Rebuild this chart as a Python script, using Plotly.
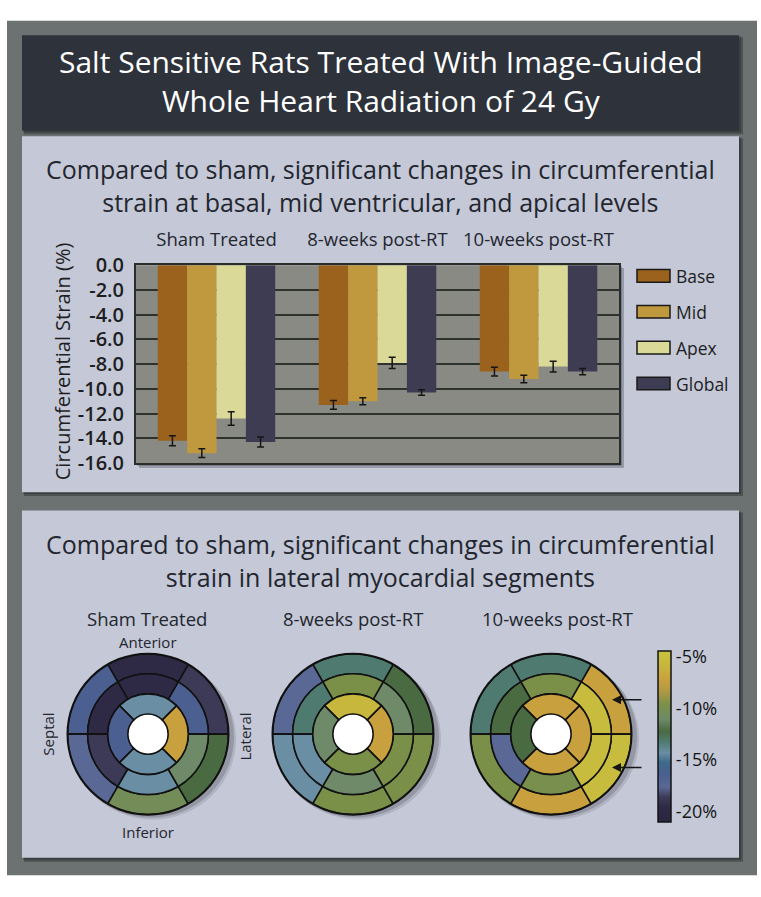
import plotly.graph_objects as go

W, H = 761, 897


def px(x):
    return x / W


def py(y):
    return 1 - y / H


# ---------------- data ----------------
GROUPS = ["Sham Treated", "8-weeks post-RT", "10-weeks post-RT"]
SERIES = ["Base", "Mid", "Apex", "Global"]
BASE = [-14.2, -11.3, -8.6]
BASE_ERR = [0.4, 0.35, 0.35]
MID = [-15.2, -11.0, -9.2]
MID_ERR = [0.35, 0.28, 0.3]
APEX = [-12.4, -7.9, -8.2]
APEX_ERR = [0.55, 0.45, 0.43]
GLOBAL = [-14.3, -10.3, -8.6]
GLOBAL_ERR = [0.4, 0.22, 0.25]
Y_TICKS = [0, -2, -4, -6, -8, -10, -12, -14, -16]
Y_TICK_TEXT = ["0.0", "-2.0", "-4.0", "-6.0", "-8.0", "-10.0", "-12.0", "-14.0", "-16.0"]

BULLSEYE_TITLES = ["Sham Treated", "8-weeks post-RT", "10-weeks post-RT"]
# segment strain (%) ordered by segment angle: basal/mid at 30,90,150,210,270,330 deg; apical at 0,90,180,270 deg
SHAM_BASAL = [-18.6, -19.6, -16.4, -17.6, -10.3, -12.2]
SHAM_MID = [-16.4, -19.6, -19.6, -18.6, -14.3, -11.0]
SHAM_APICAL = [-7.2, -14.3, -16.4, -14.3]
WK8_BASAL = [-12.2, -13.2, -17.6, -14.3, -9.6, -9.6]
WK8_MID = [-11.0, -9.6, -13.2, -14.3, -11.0, -9.6]
WK8_APICAL = [-7.2, -5.6, -11.0, -9.6]
WK10_BASAL = [-7.2, -13.2, -13.2, -9.6, -7.2, -5.2]
WK10_MID = [-5.2, -9.6, -12.2, -17.6, -9.8, -5.2]
WK10_APICAL = [-7.2, -7.2, -12.2, -7.2]
CB_TICKS = [-5, -10, -15, -20]
CB_TICK_TEXT = ["-5%", "-10%", "-15%", "-20%"]

# ---------------- styles / structure ----------------
FONT = "'Open Sans', Lato, sans-serif"
TXT = "#23262e"
SERIES_COLORS = ["#9b621e", "#c0983e", "#dbd998", "#3e3c52"]
CMIN, CMAX = -21.0, -4.4
SCALE_POINTS = [
    (-21.0, "#2a2540"), (-19.6, "#2e2a46"), (-18.6, "#3c3a56"), (-17.6, "#5a6896"),
    (-16.4, "#4b5f90"), (-15.2, "#3e6a8a"), (-14.3, "#6a8ea4"), (-13.2, "#4f7a70"),
    (-12.2, "#4a6a42"), (-11.0, "#6e8a68"), (-9.6, "#7a9048"), (-8.2, "#b39a44"),
    (-7.2, "#c9a03e"), (-6.0, "#c6b43c"), (-4.4, "#c8c43e"),
]
COLORSCALE = [[(v - CMIN) / (CMAX - CMIN), c] for v, c in SCALE_POINTS]

THETA6 = [30, 90, 150, 210, 270, 330]
THETA4 = [0, 90, 180, 270]
CENTERS_X = [148, 353, 551]
CENTER_Y = 742.5
RADIUS = 83

fig = go.Figure()

# ---------------- bar chart ----------------
vals = [BASE, MID, APEX, GLOBAL]
errs = [BASE_ERR, MID_ERR, APEX_ERR, GLOBAL_ERR]
for name, color, v, e in zip(SERIES, SERIES_COLORS, vals, errs):
    fig.add_trace(go.Bar(
        x=GROUPS, y=v, name=name, marker=dict(color=color, line=dict(width=0)),
        error_y=dict(type="data", array=e, visible=True, color="#151515", thickness=1.5, width=3.5),
        showlegend=False, hoverinfo="skip", xaxis="x", yaxis="y",
    ))

# ---------------- bullseyes ----------------
sets = [
    (SHAM_BASAL, SHAM_MID, SHAM_APICAL),
    (WK8_BASAL, WK8_MID, WK8_APICAL),
    (WK10_BASAL, WK10_MID, WK10_APICAL),
]
for i, (basal, mid, apical) in enumerate(sets):
    theta = THETA6 + THETA6 + THETA4
    width = [60] * 6 + [60] * 6 + [90] * 4
    base = [3] * 6 + [2] * 6 + [1] * 4
    colors = basal + mid + apical
    fig.add_trace(go.Barpolar(
        theta=theta, width=width, base=base, r=[1] * 16,
        marker=dict(
            color=colors, colorscale=COLORSCALE, cmin=CMIN, cmax=CMAX,
            line=dict(color="#111111", width=1.6),
            showscale=(i == 2),
            colorbar=dict(
                x=px(658), xanchor="left", xpad=0,
                y=py(744.5), yanchor="middle", ypad=0,
                len=171, lenmode="pixels", thickness=13,
                outlinewidth=1.5, outlinecolor="#151515", borderwidth=0,
                tickvals=CB_TICKS, ticktext=CB_TICK_TEXT, ticks="",
                tickfont=dict(family=FONT, size=18, color="#151515"),
            ),
        ),
        subplot="polar" if i == 0 else f"polar{i + 1}",
        showlegend=False, hoverinfo="skip",
    ))

layout = dict(
    width=W, height=H, margin=dict(l=0, r=0, t=0, b=0),
    paper_bgcolor="white", plot_bgcolor="rgba(0,0,0,0)",
    barmode="group", bargap=0.27, bargroupgap=0,
    font=dict(family=FONT, color=TXT),
    xaxis=dict(
        domain=[px(136), px(619)], anchor="y", side="top",
        showgrid=False, ticks="outside", ticklen=10, tickcolor="rgba(0,0,0,0)",
        tickfont=dict(family=FONT, size=18.5, color=TXT),
        showline=True, mirror=True, linecolor="#2a2d2a", linewidth=2,
    ),
    yaxis=dict(
        domain=[py(463), py(259)], anchor="x", range=[-16, 0],
        tickvals=Y_TICKS, ticktext=Y_TICK_TEXT,
        showgrid=True, gridcolor="#2e322e", gridwidth=2, zeroline=False,
        ticks="outside", ticklen=6, tickcolor="rgba(0,0,0,0)",
        tickfont=dict(family=FONT, size=20, color="#1e1e22", weight=600),
        showline=True, mirror=True, linecolor="#2a2d2a", linewidth=2,
    ),
)

for i, cx in enumerate(CENTERS_X):
    key = "polar" if i == 0 else f"polar{i + 1}"
    layout[key] = dict(
        domain=dict(x=[px(cx - RADIUS), px(cx + RADIUS)], y=[py(CENTER_Y + RADIUS), py(CENTER_Y - RADIUS)]),
        bgcolor="white", bargap=0,
        radialaxis=dict(range=[0, 4], visible=False, showgrid=False),
        angularaxis=dict(rotation=0, direction="counterclockwise", showgrid=False,
                         showticklabels=False, ticks="", showline=True,
                         linecolor="#111111", linewidth=2),
    )

# ---------------- shapes ----------------
shapes = []


def rect(x0, y0, x1, y1, fill, layer="below"):
    shapes.append(dict(type="rect", xref="paper", yref="paper", x0=px(x0), x1=px(x1),
                       y0=py(y1), y1=py(y0), fillcolor=fill, line=dict(width=0), layer=layer))


rect(7, 7, 757, 888, "#6c7171")
for (x0, y0, x1, y1, fill) in [(22, 22, 739, 120, "#2e323b"), (22, 126, 739, 493, "#c4c8d7"),
                              (22, 512, 739, 870, "#c4c8d7")]:
    rect(x0 + 2, y0 + 2, x1 + 4, y1 + 4, "rgba(20,22,22,0.35)")
    rect(x0 + 1, y0 + 1, x1 + 2, y1 + 2, "rgba(20,22,22,0.3)")
    rect(x0, y0, x1, y1, fill)
# plot area shadow + background
rect(139, 262, 624, 468, "rgba(40,40,50,0.28)")
rect(137, 260, 622, 466, "rgba(40,40,50,0.25)")
rect(136, 259, 619, 463, "#8a8a85")
# bullseye shadows
for cx in CENTERS_X:
    for off, a in [(5, 0.12), (3, 0.18)]:
        shapes.append(dict(type="circle", xref="paper", yref="paper",
                           x0=px(cx - RADIUS + off), x1=px(cx + RADIUS + off),
                           y0=py(CENTER_Y + RADIUS + off), y1=py(CENTER_Y - RADIUS + off),
                           fillcolor=f"rgba(30,30,40,{a})", line=dict(width=0), layer="below"))
# legend swatches
legend_y = [270, 307, 344, 381]
for c, yc in zip(SERIES_COLORS, legend_y):
    shapes.append(dict(type="rect", xref="paper", yref="paper", x0=px(637), x1=px(670),
                       y0=py(yc + 6.5), y1=py(yc - 6.5), fillcolor=c,
                       line=dict(color="#1a1a1a", width=1.5), layer="above"))
layout["shapes"] = shapes

# ---------------- annotations ----------------
ann = []


def text(x, y, s, size, color=TXT, angle=0, xanchor="center", weight=None):
    f = dict(family=FONT, size=size, color=color)
    if weight:
        f["weight"] = weight
    ann.append(dict(x=px(x), y=py(y), xref="paper", yref="paper", text=s, showarrow=False,
                    xanchor=xanchor, yanchor="middle", textangle=angle, font=f))


text(380.5, 69, "Salt Sensitive Rats Treated With Image-Guided<br>Whole Heart Radiation of 24 Gy", 30, "white")
text(380.5, 177, "Compared to sham, significant changes in circumferential<br>strain at basal, mid ventricular, and apical levels", 25)
text(380.5, 563, "Compared to sham, significant changes in circumferential<br>strain in lateral myocardial segments", 25)
text(62, 358, "Circumferential Strain (%)", 20, "#1e1e22", angle=-90)
for s, yc in zip(SERIES, legend_y):
    text(674, yc, s, 17.5, "#1e1e22", xanchor="left", weight=500)
for t, cx in zip(BULLSEYE_TITLES, [147, 353, 557]):
    text(cx, 623, t, 18.5, weight=500)
text(148, 647, "Anterior", 15)
text(148, 843, "Inferior", 15)
text(48, 742, "Septal", 15, angle=-90)
text(245, 745, "Lateral", 15, angle=-90)
for ya in [707, 777]:
    ann.append(dict(x=px(612), y=py(ya), xref="paper", yref="paper", ax=31, ay=0,
                    axref="pixel", ayref="pixel", text="", showarrow=True,
                    arrowhead=2, arrowsize=1.2, arrowwidth=1.5, arrowcolor="#151515"))
layout["annotations"] = ann

fig.update_layout(**layout)
fig.write_html("out.html", config={"displayModeBar": False},
               post_script="document.body.style.margin='0px';document.body.style.overflow='hidden';")
